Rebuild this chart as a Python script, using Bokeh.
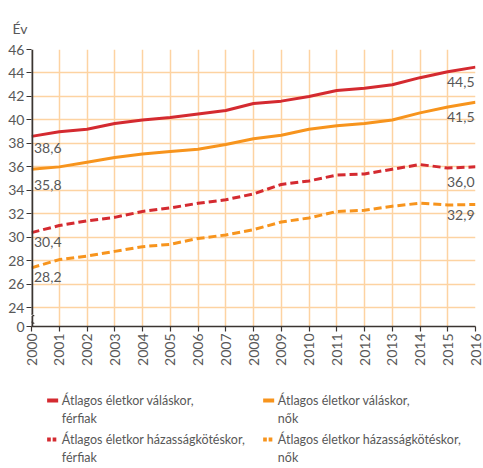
from bokeh.plotting import figure
from bokeh.models import Range1d, FixedTicker, ColumnDataSource
from bokeh.layouts import column
from bokeh.embed import file_html
from bokeh.resources import INLINE
from bokeh.core.properties import value
import math

years = list(range(2000, 2017))
divorce_men = [38.6, 39.0, 39.2, 39.7, 40.0, 40.2, 40.5, 40.8, 41.4, 41.6, 42.0, 42.5, 42.7, 43.0, 43.6, 44.1, 44.5]
divorce_women = [35.8, 36.0, 36.4, 36.8, 37.1, 37.3, 37.5, 37.9, 38.4, 38.7, 39.2, 39.5, 39.7, 40.0, 40.6, 41.1, 41.5]
marriage_men = [30.4, 31.0, 31.4, 31.7, 32.2, 32.5, 32.9, 33.2, 33.7, 34.5, 34.8, 35.3, 35.4, 35.8, 36.2, 35.9, 36.0]
marriage_women = [27.4, 28.1, 28.4, 28.8, 29.2, 29.4, 29.9, 30.2, 30.65, 31.3, 31.65, 32.2, 32.3, 32.65, 32.9, 32.75, 32.8]
start_labels = ["38,6", "35,8", "30,4", "28,2"]
end_labels = ["44,5", "41,5", "36,0", "32,9"]
legend_labels = [
    ["Átlagos életkor váláskor,", "férfiak"],
    ["Átlagos életkor váláskor,", "nők"],
    ["Átlagos életkor házasságkötéskor,", "férfiak"],
    ["Átlagos életkor házasságkötéskor,", "nők"],
]
y_ticks = list(range(24, 47, 2))
Y_ZERO = 22.4  # position of the broken-axis "0"

RED = "#d42a30"
ORANGE = "#f7941d"
GRID = "#fdd3a2"
TEXT = "#585858"
AXIS = "#3a3431"
FONT = "Lato"

W = 483
H_MAIN = 380
H_LEG = 88

p = figure(width=W, height=H_MAIN, output_backend="svg", toolbar_location=None,
           x_range=Range1d(2000, 2016), y_range=Range1d(Y_ZERO, 46),
           min_border_left=31, min_border_right=8, min_border_top=49, min_border_bottom=54)
p.outline_line_color = None
p.background_fill_color = "white"

p.title.text = "Év"
p.title.align = "left"
p.title.vertical_align = "top"
p.title.offset = -19
p.title.standoff = 22
p.title.text_font = FONT
p.title.text_font_size = "14px"
p.title.text_font_style = "normal"
p.title.text_color = TEXT

p.xaxis.ticker = FixedTicker(ticks=years)
p.xaxis.major_label_orientation = math.pi / 2
p.yaxis.ticker = FixedTicker(ticks=[Y_ZERO] + y_ticks)
p.yaxis.major_label_overrides = {Y_ZERO: "0"}
for ax in (p.xaxis[0], p.yaxis[0]):
    ax.axis_line_color = AXIS
    ax.axis_line_width = 1.5
    ax.major_tick_line_color = AXIS
    ax.major_tick_line_width = 1.2
    ax.major_tick_in = 0
    ax.major_tick_out = 5
    ax.minor_tick_line_color = None
    ax.major_label_text_font = FONT
    ax.major_label_text_font_size = "14px"
    ax.major_label_text_color = TEXT
    ax.major_label_standoff = 2
p.yaxis.axis_line_color = None

p.xgrid.ticker = FixedTicker(ticks=years)
p.ygrid.ticker = FixedTicker(ticks=y_ticks)
p.xgrid.grid_line_color = GRID
p.ygrid.grid_line_color = GRID
p.xgrid.grid_line_width = 1.5
p.ygrid.grid_line_width = 1.5

series = [
    (divorce_men, RED, "solid"),
    (divorce_women, ORANGE, "solid"),
    (marriage_men, RED, "8 4"),
    (marriage_women, ORANGE, "8 4"),
]
for vals, col, dash in series:
    p.line(years, vals, line_color=col, line_width=3, line_dash=dash)

# broken y axis line drawn at the left edge
x0 = years[0]
p.segment(x0=[x0, x0], y0=[46, 23.3], x1=[x0, x0], y1=[23.45, Y_ZERO],
          line_color=AXIS, line_width=3.5)
p.segment(x0=[x0 - 0.1, x0 - 0.1], y0=[23.55, 22.9], x1=[x0 + 0.1, x0 + 0.1], y1=[23.3, 22.65],
          line_color=AXIS, line_width=1.2)

start_off = [12, 16, 9, 9]
end_off = [15, 15, 15, 11]
src_start = ColumnDataSource(dict(x=[years[0]] * 4, y=[s[0][0] for s in series],
                                  t=start_labels, off=start_off))
p.text(x="x", y="y", text="t", source=src_start, x_offset=2.5, y_offset="off",
       text_font=value(FONT), text_font_size="14px", text_color=TEXT,
       text_align="left", text_baseline="middle")
src_end = ColumnDataSource(dict(x=[years[-1]] * 4, y=[s[0][-1] for s in series],
                                t=end_labels, off=end_off))
p.text(x="x", y="y", text="t", source=src_end, x_offset=-1, y_offset="off",
       text_font=value(FONT), text_font_size="14px", text_color=TEXT,
       text_align="right", text_baseline="middle")

leg = figure(width=W, height=H_LEG, output_backend="svg", toolbar_location=None,
             x_range=Range1d(0, W), y_range=Range1d(H_LEG, 0),
             min_border=0, x_axis_type=None, y_axis_type=None)
leg.outline_line_color = None
leg.xgrid.visible = False
leg.ygrid.visible = False

col_x = [17, 252]
row_y = [20, 59]
line_gap = 18
leg_colors = [RED, ORANGE, RED, ORANGE]
for i, (l1, l2) in enumerate(legend_labels):
    cx = col_x[i % 2]
    ry = row_y[i // 2]
    if i < 2:
        leg.rect(x=[cx + 6], y=[ry], width=12, height=4, fill_color=leg_colors[i], line_color=None)
    else:
        leg.rect(x=[cx + 2, cx + 8], y=[ry, ry], width=4, height=4, fill_color=leg_colors[i], line_color=None)
    leg.text(x=[cx + 16, cx + 16], y=[ry, ry + line_gap], text=[l1, l2],
             text_font=value(FONT), text_font_size="12.5px", text_color=TEXT,
             text_align="left", text_baseline="middle")

layout = column(p, leg, spacing=0)
open("out.html", "w").write(file_html(layout, INLINE))
